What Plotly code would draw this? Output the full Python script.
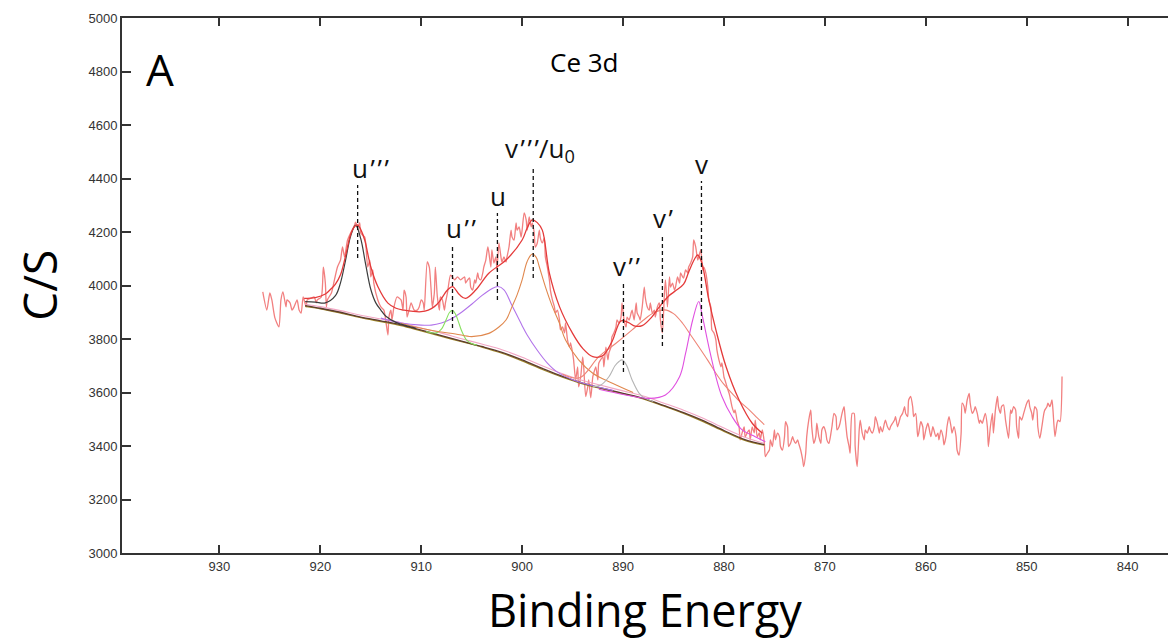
import plotly.graph_objects as go

# ---------------- data ----------------
raw_E = [925.7, 925.3, 925.0, 924.8, 924.5, 924.1, 923.9, 923.7, 923.4, 923.3, 923.0, 922.8, 922.6, 922.3, 922.1,
         921.9, 921.7, 921.4, 921.3, 920.9, 920.6, 920.4, 920.3, 919.9, 919.7, 919.5, 919.4, 919.3, 918.9, 918.6,
         918.3, 918.0, 917.8, 917.6, 917.3, 917.0, 916.6, 916.5, 916.3, 916.1, 916.0, 915.6, 915.5, 915.3, 915.1,
         915.0, 914.8, 914.7, 914.3, 914.0, 913.7, 913.3, 913.2, 913.0, 912.9, 912.7, 912.4, 912.0, 911.8, 911.7,
         911.5, 911.4, 911.2, 911.0, 910.7, 910.4, 910.2, 910.0, 909.8, 909.7, 909.4, 909.2, 909.0, 908.9, 908.7,
         908.6, 908.4, 908.2, 908.1, 907.9, 907.7, 907.6, 907.4, 907.1, 906.9, 906.7, 906.4, 906.1, 905.7, 905.6,
         905.4, 905.2, 905.1, 904.9, 904.7, 904.6, 904.4, 904.3, 904.1, 903.9, 903.8, 903.6, 903.4, 903.3, 903.1,
         903.0, 902.8, 902.6, 902.5, 902.3, 902.1, 902.0, 901.8, 901.6, 901.5, 901.3, 901.1, 901.0, 900.8, 900.6,
         900.5, 900.3, 900.1, 900.0, 899.8, 899.6, 899.5, 899.3, 899.1, 899.0, 898.8, 898.7, 898.5, 898.3, 898.2,
         898.0, 897.8, 897.7, 897.5, 897.3, 897.2, 897.0, 896.8, 896.7, 896.5, 896.3, 896.2, 896.0, 895.8, 895.7,
         895.5, 895.3, 895.2, 895.0, 894.9, 894.7, 894.5, 894.4, 894.2, 894.0, 893.9, 893.7, 893.5, 893.4, 893.2,
         893.0, 892.9, 892.7, 892.5, 892.4, 892.0, 891.9, 891.7, 891.5, 891.4, 891.2, 891.1, 890.9, 890.7, 890.6,
         890.4, 890.2, 890.1, 889.9, 889.7, 889.6, 889.4, 889.2, 889.1, 888.9, 888.7, 888.6, 888.4, 888.3, 888.1,
         887.9, 887.8, 887.6, 887.4, 887.3, 887.1, 886.9, 886.8, 886.6, 886.4, 886.3, 886.1, 885.9, 885.8, 885.6,
         885.4, 885.3, 885.1, 884.9, 884.8, 884.6, 884.4, 884.3, 884.1, 884.0, 883.8, 883.6, 883.5, 883.3, 883.1,
         883.0, 882.8, 882.6, 882.5, 882.3, 882.1, 882.0, 881.8, 881.6, 881.5, 881.3, 881.2, 881.0, 880.8, 880.7,
         880.5, 880.3, 880.2, 880.0, 879.9, 879.7, 879.5, 879.4, 879.2, 879.0, 878.9, 878.7, 878.5, 878.4, 878.2,
         878.0, 877.9, 877.7, 877.5, 877.4, 877.2, 877.0, 876.9, 876.7, 876.5, 876.4, 876.2, 876.0, 875.9, 875.7,
         875.5, 875.4, 875.2, 875.0, 874.9, 874.7, 874.5, 874.4, 874.2, 874.0, 873.9, 873.7, 873.6, 873.4, 873.2,
         873.1, 872.9, 872.7, 872.6, 872.4, 872.2, 872.1, 871.9, 871.8, 871.6, 871.4, 871.3, 871.1, 870.9, 870.8,
         870.6, 870.4, 870.3, 870.1, 869.9, 869.8, 869.6, 869.4, 869.3, 869.1, 868.9, 868.8, 868.6, 868.5, 868.3,
         868.1, 868.0, 867.8, 867.6, 867.5, 867.3, 867.1, 867.0, 866.8, 866.6, 866.5, 866.3, 866.1, 866.0, 865.8,
         865.6, 865.5, 865.3, 865.1, 865.0, 864.8, 864.6, 864.5, 864.3, 864.1, 864.0, 863.8, 863.6, 863.5, 863.3,
         863.1, 863.0, 862.8, 862.6, 862.5, 862.3, 862.1, 862.0, 861.8, 861.7, 861.5, 861.3, 861.2, 861.0, 860.8,
         860.7, 860.5, 860.3, 860.2, 860.0, 859.8, 859.7, 859.5, 859.3, 859.2, 859.0, 858.8, 858.7, 858.5, 858.3,
         858.2, 858.0, 857.9, 857.7, 857.5, 857.4, 857.2, 857.0, 856.9, 856.7, 856.5, 856.4, 856.2, 856.1, 855.9,
         855.7, 855.6, 855.4, 855.2, 855.1, 854.9, 854.7, 854.6, 854.4, 854.3, 854.1, 853.9, 853.8, 853.6, 853.4,
         853.3, 853.1, 852.9, 852.8, 852.6, 852.5, 852.3, 852.1, 852.0, 851.8, 851.6, 851.5, 851.3, 851.1, 851.0,
         850.8, 850.7, 850.5, 850.3, 850.2, 850.0, 849.8, 849.7, 849.5, 849.4, 849.2, 849.0, 848.9, 848.7, 848.5,
         848.3, 848.2, 848.0, 847.9, 847.7, 847.5, 847.4, 847.2, 847.0, 846.9, 846.7, 846.5]
raw_C = [3976, 3908, 3972, 3946, 3879, 3845, 3946, 3976, 3920, 3946, 3935, 3908, 3920, 3946, 3908,
         3897, 3957, 3920, 3946, 3953, 3957, 3935, 3946, 3957, 4069, 4009, 3920, 3946, 3972, 4021,
         4069, 4095, 4144, 4107, 4170, 4196, 4226, 4237, 4219, 4234, 4196, 4181, 4159, 4069, 4095,
         4032, 4058, 4009, 3946, 3920, 3908, 3815, 3882, 3908, 3871, 3920, 3957, 3946, 3908, 3983,
         3957, 3882, 3908, 3935, 3908, 3908, 3920, 3946, 3935, 3908, 4088, 4069, 3972, 3920, 3972,
         4069, 3957, 3908, 3957, 3946, 3908, 3935, 3972, 4039, 4032, 4021, 4032, 4021, 4032, 4009,
         4021, 4028, 3994, 3983, 4021, 4009, 4047, 4028, 4021, 4047, 4069, 4095, 4144, 4125, 4069,
         4133, 4084, 4107, 4058, 4159, 4107, 4088, 4107, 4088, 4107, 4144, 4207, 4181, 4170, 4234,
         4207, 4219, 4181, 4207, 4271, 4245, 4207, 4256, 4219, 4234, 4196, 4144, 4159, 4207, 4178,
         4159, 4178, 4107, 4069, 4021, 3983, 3946, 3920, 3897, 3908, 3871, 3834, 3845, 3823, 3860,
         3796, 3770, 3785, 3748, 3722, 3647, 3696, 3621, 3658, 3733, 3696, 3585, 3621, 3647, 3580,
         3658, 3673, 3696, 3647, 3710, 3733, 3696, 3770, 3722, 3748, 3770, 3808, 3823, 3845, 3871,
         3860, 3882, 3935, 3871, 3845, 3882, 3871, 3897, 3908, 3871, 3935, 3897, 3882, 3871, 3920,
         3994, 3957, 3920, 3908, 3935, 3897, 3908, 3882, 3920, 3935, 3871, 3823, 3972, 4021, 3920,
         4032, 3994, 4009, 3983, 3994, 4032, 4009, 4047, 4032, 4028, 4058, 4047, 4069, 4084, 4107,
         4170, 4144, 4095, 4107, 4133, 4058, 4069, 4047, 3994, 3946, 3920, 3834, 3823, 3796, 3759,
         3722, 3696, 3711, 3658, 3647, 3621, 3598, 3583, 3546, 3524, 3535, 3497, 3471, 3423, 3449,
         3471, 3434, 3449, 3460, 3423, 3471, 3449, 3497, 3434, 3449, 3423, 3460, 3412, 3360, 3373,
         3385, 3423, 3398, 3460, 3423, 3448, 3435, 3398, 3385, 3435, 3491, 3472, 3398, 3410, 3435,
         3423, 3410, 3423, 3410, 3385, 3348, 3323, 3373, 3435, 3497, 3535, 3472, 3410, 3435, 3485,
         3435, 3410, 3460, 3472, 3448, 3423, 3410, 3448, 3472, 3522, 3510, 3460, 3472, 3485, 3522,
         3547, 3510, 3435, 3398, 3373, 3522, 3522, 3398, 3323, 3460, 3497, 3448, 3423, 3460, 3448,
         3472, 3460, 3448, 3472, 3510, 3485, 3448, 3472, 3453, 3485, 3497, 3472, 3460, 3472, 3485,
         3497, 3510, 3472, 3497, 3510, 3522, 3547, 3522, 3510, 3572, 3585, 3547, 3510, 3522, 3435,
         3448, 3491, 3472, 3423, 3460, 3485, 3472, 3435, 3472, 3460, 3435, 3448, 3423, 3460, 3435,
         3404, 3435, 3472, 3510, 3472, 3448, 3472, 3435, 3385, 3366, 3448, 3560, 3547, 3522, 3572,
         3597, 3560, 3522, 3535, 3547, 3522, 3485, 3497, 3485, 3497, 3522, 3472, 3398, 3472, 3522,
         3448, 3535, 3585, 3547, 3522, 3547, 3554, 3497, 3472, 3429, 3535, 3522, 3547, 3535, 3472,
         3429, 3510, 3497, 3522, 3535, 3560, 3572, 3547, 3522, 3497, 3547, 3535, 3472, 3429, 3472,
         3522, 3535, 3547, 3560, 3547, 3572, 3535, 3435, 3485, 3497, 3491, 3660]

env_E = [921.6, 920.5, 919.5, 919.0, 918.5, 918.0, 917.5, 917.0, 916.6, 916.3, 916.0, 915.6, 915.0, 914.3,
         913.3, 912.5, 911.7, 910.8, 910.0, 909.3, 908.7, 908.2, 907.4, 906.9, 906.2, 905.6, 904.6, 903.3,
         901.6, 900.0, 899.5, 899.0, 898.5, 898.0, 897.3, 896.3, 895.0, 894.0, 893.0, 892.0, 891.1, 890.2,
         889.5, 888.8, 888.1, 887.2, 886.4, 885.5, 884.8, 884.0, 883.5, 882.9, 882.6, 882.2, 881.5, 880.8,
         879.8, 878.5, 877.2, 876.2]
env_C = [3952, 3955, 3968, 3985, 4005, 4040, 4110, 4190, 4220, 4226, 4210, 4170, 4070, 3996,
         3934, 3915, 3908, 3903, 3902, 3908, 3921, 3940, 3983, 3996, 3965, 3952, 3983, 4046,
         4095, 4170, 4215, 4245, 4235, 4207, 4046, 3921, 3821, 3765, 3734, 3738, 3790, 3868,
         3862, 3848, 3850, 3880, 3920, 3960, 3980, 4005, 4050, 4100, 4114, 4085, 3946, 3834,
         3697, 3572, 3485, 3448]

bg_E = [921.5, 920, 918, 916, 914, 912, 910, 908, 906, 904, 902, 900, 898, 896, 894, 892, 890, 888,
        886, 884, 882, 880, 878, 876]
bg_C = [3925, 3915, 3900, 3882, 3868, 3853, 3833, 3813, 3792, 3772, 3750, 3722, 3690, 3660, 3635, 3615,
        3597, 3578, 3552, 3525, 3494, 3458, 3425, 3405]
bg2_C = [3922, 3913, 3897, 3880, 3865, 3850, 3830, 3810, 3790, 3770, 3747, 3718, 3686, 3657, 3632, 3613,
         3595, 3576, 3550, 3522, 3490, 3455, 3422, 3403]
bg3_C = [3930, 3921, 3906, 3889, 3875, 3861, 3841, 3822, 3801, 3781, 3760, 3732, 3700, 3670, 3645, 3625,
         3606, 3587, 3561, 3534, 3503, 3467, 3434, 3410]

u3_E = [921.5, 920.5, 919.5, 918.5, 918.0, 917.5, 917.0, 916.5, 916.0, 915.5, 915.0, 914.5, 914.0, 913.5,
        912.5, 911.5, 910.5]
u3_C = [3940, 3938, 3935, 3962, 4010, 4094, 4184, 4226, 4176, 4078, 3986, 3935, 3908, 3885, 3862, 3850, 3840]

u2_E = [909.5, 908.5, 908.0, 907.5, 907.2, 906.9, 906.6, 906.3, 906.0, 905.5, 905.0, 904.5]
u2_C = [3828, 3823, 3837, 3875, 3899, 3907, 3893, 3863, 3831, 3796, 3783, 3777]

u_E = [914, 912, 910, 909, 908, 907, 906, 905, 904, 903, 902.4, 901.8, 901, 900, 899.5, 898.5, 897.5,
       896.5, 895, 893, 891]
u_C = [3878, 3860, 3852, 3852, 3860, 3876, 3900, 3930, 3962, 3988, 3996, 3984, 3925, 3850, 3815, 3758,
       3710, 3676, 3648, 3625, 3608]

v3_E = [912, 910, 908.2, 906.6, 905, 903.3, 902.3, 901.6, 901, 900.5, 900, 899.5, 899, 898.6, 898.3,
        897.7, 897, 896.3, 895.7, 894.4, 893, 891, 889]
v3_C = [3858, 3840, 3827, 3819, 3809, 3821, 3845, 3871, 3921, 3965, 4021, 4090, 4118, 4105, 4070,
        3996, 3921, 3859, 3796, 3722, 3672, 3634, 3600]

v2_E = [893, 892.2, 891.4, 890.8, 890.4, 890.1, 889.7, 889.1, 888.4, 887.8, 887]
v2_C = [3622, 3628, 3659, 3700, 3716, 3722, 3705, 3647, 3597, 3578, 3566]

v1_E = [896, 894.3, 892.4, 890.7, 889.1, 888, 887, 885.9, 885, 884.1, 883.3, 882.5, 881.6, 880.8,
        880, 879.2, 878.4, 877.5, 876.7, 876]
v1_C = [3668, 3655, 3734, 3784, 3834, 3870, 3897, 3909, 3895, 3859, 3815, 3771, 3720, 3672,
        3630, 3597, 3565, 3535, 3505, 3480]

v_E = [892.4, 890.7, 889.1, 887.4, 885.8, 884.4, 883.8, 883.1, 882.5, 882.2, 881.5, 880.8, 880.2,
       879.2, 878.2, 876.9, 875.9]
v_C = [3612, 3598, 3586, 3578, 3591, 3659, 3747, 3871, 3940, 3896, 3771, 3659, 3585, 3510, 3460,
       3435, 3416]

q = "\u200a’"
peak_labels = ["u" + q * 3, "u" + q * 2, "u", "v" + q * 3 + "/u<sub>0</sub>", "v" + q * 2, "v" + q, "v"]
peak_E = [916.3, 906.9, 902.45, 898.9, 889.96, 886.1, 882.23]
line_top = [4376, 4150, 4271, 4443, 4009, 4189, 4391]
line_bot = [4103, 3841, 3946, 4028, 3677, 3774, 3834]

x_ticks = [930, 920, 910, 900, 890, 880, 870, 860, 850, 840]
y_ticks = [3000, 3200, 3400, 3600, 3800, 4000, 4200, 4400, 4600, 4800, 5000]

# ---------------- styles ----------------
label_xshift = [-8, -9, -9, -30, -12, -11, -8]

fig = go.Figure()

def add_line(x, y, color, width=1.2, opacity=1.0, smooth=1.0):
    fig.add_trace(go.Scatter(x=x, y=y, mode="lines", opacity=opacity,
                             line=dict(color=color, width=width, shape="spline", smoothing=smooth),
                             hoverinfo="skip", showlegend=False))

add_line(raw_E, raw_C, "#f06a6a", 1.3, 0.85, 0.6)
add_line(bg_E, bg3_C, "#f2a6c4", 1.1)
add_line(bg_E, bg2_C, "#a08a2a", 1.3)
add_line(bg_E, bg_C, "#5c3a30", 1.3)
add_line(u_E, u_C, "#b274ea", 1.1)
add_line(u2_E, u2_C, "#88e060", 1.1)
add_line(v3_E, v3_C, "#e0884e", 1.1)
add_line(v2_E, v2_C, "#b4b4b4", 1.1)
add_line(v1_E, v1_C, "#ee8476", 1.1)
add_line(v_E, v_C, "#e050e0", 1.1)
add_line(u3_E, u3_C, "#3c3c3c", 1.2)
add_line(env_E, env_C, "#e43a3a", 1.3)

for i in range(len(peak_E)):
    fig.add_shape(type="line", x0=peak_E[i], x1=peak_E[i], y0=line_bot[i], y1=line_top[i],
                  xref="x", yref="y", line=dict(color="#111111", width=1.3, dash="4px,3px"))
    fig.add_annotation(x=peak_E[i], y=line_top[i], text=peak_labels[i], showarrow=False,
                       xanchor="left", yanchor="bottom", xshift=label_xshift[i], yshift=-3,
                       font=dict(family="Open Sans", size=26, color="#111111"))

fig.add_annotation(x=0.0363, y=0.905, xref="paper", yref="paper", text="A", showarrow=False,
                   xanchor="center", yanchor="middle", font=dict(family="Open Sans", size=44, color="#000"))
fig.add_annotation(x=0.4426, y=0.918, xref="paper", yref="paper", text="Ce 3d", showarrow=False,
                   xanchor="center", yanchor="middle", font=dict(family="Open Sans", size=26, color="#000"))
fig.add_annotation(x=-0.080, y=0.5, xref="paper", yref="paper", text="C/S", showarrow=False,
                   textangle=-90, xanchor="center", yanchor="middle",
                   font=dict(family="Open Sans", size=46, color="#000"))
fig.add_annotation(x=0.5, y=-0.105, xref="paper", yref="paper", text="Binding Energy", showarrow=False,
                   xanchor="center", yanchor="middle", borderpad=0,
                   font=dict(family="Open Sans", size=45, color="#000"))

fig.update_xaxes(range=[939.65, 836.0], tickvals=x_ticks, ticktext=[str(t) for t in x_ticks],
                 ticks="inside", ticklen=8, tickwidth=1.5, tickcolor="#333",
                 showline=True, linecolor="#333", linewidth=2, mirror="ticks",
                 showgrid=False, zeroline=False,
                 tickfont=dict(family="Liberation Sans", size=13, color="#333"))
fig.update_yaxes(range=[3000, 5000], tickvals=y_ticks, ticktext=[str(t) for t in y_ticks],
                 ticks="inside", ticklen=9, tickwidth=1.5, tickcolor="#333",
                 showline=True, linecolor="#333", linewidth=2,
                 showgrid=False, zeroline=False,
                 tickfont=dict(family="Liberation Sans", size=13, color="#333"))

fig.update_layout(width=1168, height=642, margin=dict(l=122, r=0, t=18, b=89),
                  paper_bgcolor="white", plot_bgcolor="white", showlegend=False)

fig.write_html("out.html")
